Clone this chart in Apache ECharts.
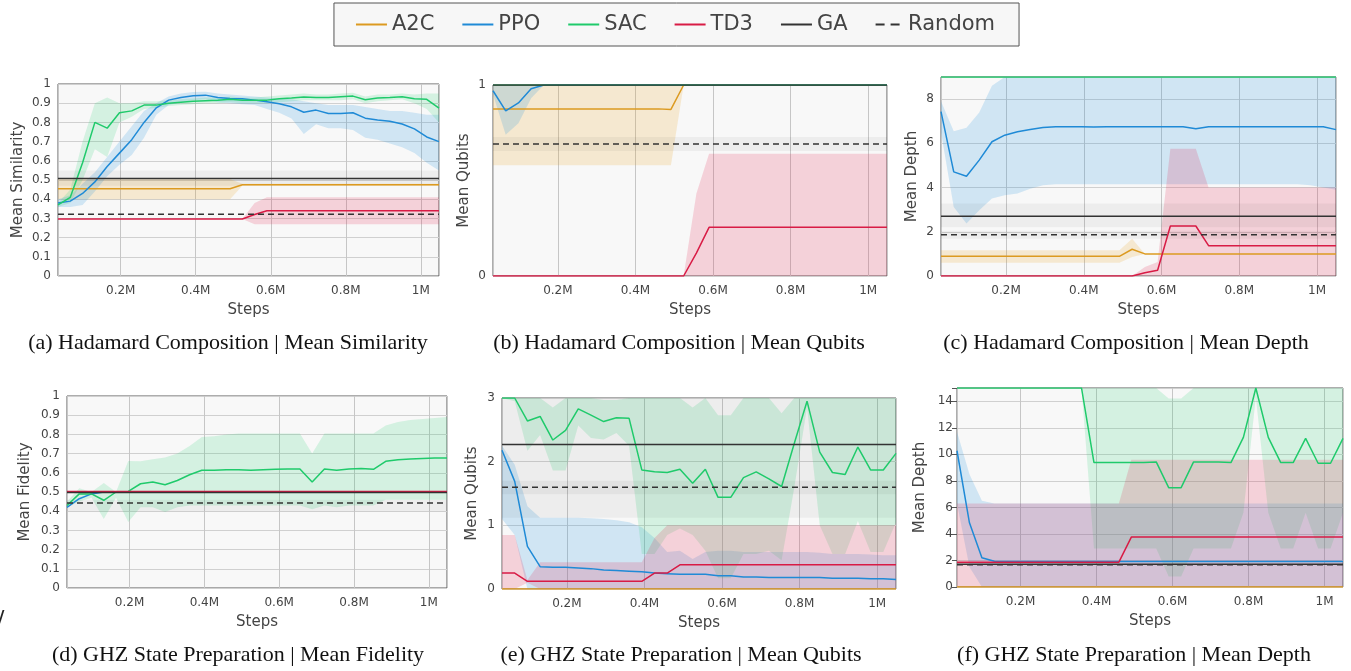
<!DOCTYPE html>
<html><head><meta charset="utf-8">
<script src="https://cdn.jsdelivr.net/npm/echarts@6/dist/echarts.min.js"></script>
<style>html,body{margin:0;padding:0;background:#fff;}#c{width:1351px;height:671px;}</style>
</head><body><div id="c"></div>
<script>
// ---- x values (environment steps) ----
const steps = [32768,65536,98304,131072,163840,196608,229376,262144,294912,327680,360448,393216,425984,458752,491520,524288,557056,589824,622592,655360,688128,720896,753664,786432,819200,851968,884736,917504,950272,983040,1015808,1048576];
const methodNames = ['A2C','PPO','SAC','TD3','GA','Random'];

// ---- (a) Hadamard Composition | Mean Similarity ----
const a_A2C    = [0.454,0.454,0.454,0.454,0.454,0.454,0.454,0.454,0.454,0.454,0.454,0.454,0.454,0.454,0.454,0.475,0.475,0.475,0.475,0.475,0.475,0.475,0.475,0.475,0.475,0.475,0.475,0.475,0.475,0.475,0.475,0.475];
const a_A2C_lo = [0.40,0.40,0.40,0.40,0.40,0.40,0.40,0.40,0.40,0.40,0.40,0.40,0.40,0.40,0.40,0.47,0.47,0.47,0.47,0.47,0.47,0.47,0.47,0.47,0.47,0.47,0.47,0.47,0.47,0.47,0.47,0.47];
const a_A2C_hi = [0.505,0.505,0.505,0.505,0.505,0.505,0.505,0.505,0.505,0.505,0.505,0.505,0.505,0.505,0.505,0.48,0.48,0.48,0.48,0.48,0.48,0.48,0.48,0.48,0.48,0.48,0.48,0.48,0.48,0.48,0.48,0.48];
const a_PPO    = [0.38,0.39,0.43,0.49,0.57,0.64,0.71,0.80,0.876,0.916,0.93,0.939,0.942,0.93,0.925,0.923,0.916,0.907,0.897,0.881,0.853,0.864,0.846,0.846,0.85,0.822,0.813,0.806,0.792,0.766,0.724,0.70];
const a_PPO_lo = [0.36,0.36,0.37,0.44,0.52,0.58,0.63,0.72,0.84,0.89,0.905,0.915,0.92,0.905,0.90,0.895,0.89,0.87,0.85,0.82,0.74,0.79,0.77,0.77,0.76,0.72,0.71,0.69,0.67,0.64,0.59,0.55];
const a_PPO_hi = [0.40,0.42,0.48,0.54,0.62,0.70,0.78,0.86,0.90,0.935,0.95,0.958,0.96,0.95,0.945,0.94,0.935,0.93,0.925,0.92,0.91,0.90,0.89,0.89,0.89,0.88,0.87,0.86,0.86,0.85,0.84,0.84];
const a_SAC    = [0.37,0.41,0.59,0.80,0.77,0.85,0.86,0.89,0.89,0.90,0.905,0.91,0.913,0.916,0.92,0.916,0.916,0.916,0.923,0.927,0.932,0.93,0.93,0.934,0.937,0.918,0.927,0.93,0.934,0.923,0.92,0.874];
const a_SAC_lo = [0.36,0.38,0.50,0.66,0.62,0.80,0.83,0.87,0.875,0.885,0.89,0.895,0.90,0.90,0.905,0.90,0.90,0.90,0.905,0.91,0.915,0.915,0.915,0.915,0.92,0.90,0.91,0.915,0.92,0.90,0.87,0.80];
const a_SAC_hi = [0.38,0.45,0.70,0.90,0.93,0.90,0.90,0.91,0.91,0.915,0.92,0.925,0.93,0.93,0.935,0.93,0.93,0.935,0.94,0.945,0.95,0.945,0.945,0.95,0.955,0.935,0.945,0.945,0.95,0.945,0.95,0.95];
const a_TD3    = [0.297,0.297,0.297,0.297,0.297,0.297,0.297,0.297,0.297,0.297,0.297,0.297,0.297,0.297,0.297,0.297,0.32,0.34,0.34,0.34,0.34,0.34,0.34,0.34,0.34,0.34,0.34,0.34,0.34,0.34,0.34,0.34];
const a_TD3_lo = [0.297,0.297,0.297,0.297,0.297,0.297,0.297,0.297,0.297,0.297,0.297,0.297,0.297,0.297,0.297,0.297,0.27,0.27,0.27,0.27,0.27,0.27,0.27,0.27,0.27,0.27,0.27,0.27,0.27,0.27,0.27,0.27];
const a_TD3_hi = [0.297,0.297,0.297,0.297,0.297,0.297,0.297,0.297,0.297,0.297,0.297,0.297,0.297,0.297,0.297,0.297,0.38,0.41,0.41,0.41,0.41,0.41,0.41,0.41,0.41,0.41,0.41,0.41,0.41,0.41,0.41,0.41];
const a_GA     = [0.508,0.47,0.55];   // mean, lower, upper
const a_Random = [0.321,0.321,0.321];

// ---- (b) Hadamard Composition | Mean Qubits ----
const b_A2C    = [0.875,0.875,0.875,0.875,0.875,0.875,0.875,0.875,0.875,0.875,0.875,0.875,0.875,0.875,0.872,1,1,1,1,1,1,1,1,1,1,1,1,1,1,1,1,1];
const b_A2C_lo = [0.58,0.58,0.58,0.58,0.58,0.58,0.58,0.58,0.58,0.58,0.58,0.58,0.58,0.58,0.58,1,1,1,1,1,1,1,1,1,1,1,1,1,1,1,1,1];
const b_A2C_hi = [1,1,1,1,1,1,1,1,1,1,1,1,1,1,1,1,1,1,1,1,1,1,1,1,1,1,1,1,1,1,1,1];
const b_PPO    = [0.97,0.864,0.906,0.98,1,1,1,1,1,1,1,1,1,1,1,1,1,1,1,1,1,1,1,1,1,1,1,1,1,1,1,1];
const b_PPO_lo = [0.95,0.74,0.80,0.93,1,1,1,1,1,1,1,1,1,1,1,1,1,1,1,1,1,1,1,1,1,1,1,1,1,1,1,1];
const b_PPO_hi = [1,1,1,1,1,1,1,1,1,1,1,1,1,1,1,1,1,1,1,1,1,1,1,1,1,1,1,1,1,1,1,1];
const b_SAC    = [1,1,1,1,1,1,1,1,1,1,1,1,1,1,1,1,1,1,1,1,1,1,1,1,1,1,1,1,1,1,1,1];
const b_TD3    = [0,0,0,0,0,0,0,0,0,0,0,0,0,0,0,0,0.12,0.255,0.255,0.255,0.255,0.255,0.255,0.255,0.255,0.255,0.255,0.255,0.255,0.255,0.255,0.255];
const b_TD3_lo = [0,0,0,0,0,0,0,0,0,0,0,0,0,0,0,0,0,0,0,0,0,0,0,0,0,0,0,0,0,0,0,0];
const b_TD3_hi = [0,0,0,0,0,0,0,0,0,0,0,0,0,0,0,0,0.43,0.64,0.64,0.64,0.64,0.64,0.64,0.64,0.64,0.64,0.64,0.64,0.64,0.64,0.64,0.64];
const b_GA     = [1,1,1];
const b_Random = [0.691,0.655,0.728];

// ---- (c) Hadamard Composition | Mean Depth ----
const c_A2C    = [0.89,0.89,0.89,0.89,0.89,0.89,0.89,0.89,0.89,0.89,0.89,0.89,0.89,0.89,0.89,1.21,1.0,1.0,1.0,1.0,1.0,1.0,1.0,1.0,1.0,1.0,1.0,1.0,1.0,1.0,1.0,1.0];
const c_A2C_lo = [0.6,0.6,0.6,0.6,0.6,0.6,0.6,0.6,0.6,0.6,0.6,0.6,0.6,0.6,0.6,0.86,1.0,1.0,1.0,1.0,1.0,1.0,1.0,1.0,1.0,1.0,1.0,1.0,1.0,1.0,1.0,1.0];
const c_A2C_hi = [1.16,1.16,1.16,1.16,1.16,1.16,1.16,1.16,1.16,1.16,1.16,1.16,1.16,1.16,1.16,1.69,1.0,1.0,1.0,1.0,1.0,1.0,1.0,1.0,1.0,1.0,1.0,1.0,1.0,1.0,1.0,1.0];
const c_PPO    = [7.43,4.71,4.51,5.24,6.07,6.37,6.52,6.63,6.72,6.75,6.75,6.75,6.74,6.75,6.75,6.75,6.75,6.75,6.75,6.75,6.66,6.75,6.75,6.75,6.75,6.75,6.75,6.75,6.75,6.75,6.75,6.62];
const c_PPO_lo = [6.5,3.12,2.37,2.97,3.5,3.65,3.73,3.95,4.1,4.15,4.15,4.15,4.15,4.15,4.15,4.15,4.15,4.15,4.15,4.15,4.15,4.15,4.15,4.15,4.15,4.15,4.15,4.15,4.15,4.1,4.0,3.9];
const c_PPO_hi = [7.9,6.55,6.7,7.4,8.6,9,9,9,9,9,9,9,9,9,9,9,9,9,9,9,9,9,9,9,9,9,9,9,9,9,9,9];
const c_SAC    = [9,9,9,9,9,9,9,9,9,9,9,9,9,9,9,9,9,9,9,9,9,9,9,9,9,9,9,9,9,9,9,9];
const c_TD3    = [0,0,0,0,0,0,0,0,0,0,0,0,0,0,0,0,0.15,0.26,2.26,2.26,2.26,1.37,1.37,1.37,1.37,1.37,1.37,1.37,1.37,1.37,1.37,1.37];
const c_TD3_lo = [0,0,0,0,0,0,0,0,0,0,0,0,0,0,0,0,0,0,0,0,0,0,0,0,0,0,0,0,0,0,0,0];
const c_TD3_hi = [0,0,0,0,0,0,0,0,0,0,0,0,0,0,0,0,0.41,0.63,5.75,5.75,5.75,4.0,4.0,4.0,4.0,4.0,4.0,4.0,4.0,4.0,4.0,4.0];
const c_GA     = [2.70,2.2,3.28];
const c_Random = [1.87,1.69,2.05];

// ---- (d) GHZ State Preparation | Mean Fidelity ----
const d_A2C    = [0.5,0.5,0.5,0.5,0.5,0.5,0.5,0.5,0.5,0.5,0.5,0.5,0.5,0.5,0.5,0.5,0.5,0.5,0.5,0.5,0.5,0.5,0.5,0.5,0.5,0.5,0.5,0.5,0.5,0.5,0.5,0.5];
const d_PPO    = [0.42,0.465,0.49,0.5,0.5,0.5,0.5,0.5,0.5,0.5,0.5,0.5,0.5,0.5,0.5,0.5,0.5,0.5,0.5,0.5,0.5,0.5,0.5,0.5,0.5,0.5,0.5,0.5,0.5,0.5,0.5,0.5];
const d_SAC    = [0.43,0.49,0.49,0.457,0.5,0.503,0.543,0.552,0.538,0.56,0.59,0.613,0.613,0.616,0.616,0.613,0.616,0.618,0.62,0.62,0.552,0.62,0.613,0.62,0.622,0.618,0.66,0.668,0.672,0.675,0.677,0.677];
const d_SAC_lo = [0.42,0.45,0.47,0.36,0.47,0.344,0.42,0.42,0.396,0.42,0.43,0.43,0.43,0.43,0.43,0.43,0.43,0.43,0.43,0.43,0.41,0.43,0.42,0.43,0.43,0.43,0.46,0.46,0.46,0.46,0.46,0.46];
const d_SAC_hi = [0.45,0.52,0.50,0.547,0.50,0.661,0.66,0.67,0.68,0.70,0.74,0.786,0.79,0.80,0.805,0.805,0.805,0.805,0.805,0.805,0.70,0.805,0.805,0.805,0.805,0.805,0.847,0.865,0.875,0.88,0.885,0.89];
const d_TD3    = [0.502,0.502,0.502,0.502,0.502,0.502,0.502,0.502,0.502,0.502,0.502,0.502,0.502,0.502,0.502,0.502,0.502,0.502,0.502,0.502,0.502,0.502,0.502,0.502,0.502,0.502,0.502,0.502,0.502,0.502,0.502,0.502];
const d_GA     = [0.497,0.497,0.497];
const d_Random = [0.443,0.40,0.46];

// ---- (e) GHZ State Preparation | Mean Qubits ----
const e_A2C    = [0,0,0,0,0,0,0,0,0,0,0,0,0,0,0,0,0,0,0,0,0,0,0,0,0,0,0,0,0,0,0,0];
const e_PPO    = [2.18,1.69,0.67,0.35,0.34,0.34,0.33,0.32,0.30,0.29,0.28,0.27,0.25,0.24,0.23,0.23,0.23,0.21,0.21,0.19,0.19,0.18,0.18,0.18,0.18,0.18,0.17,0.17,0.17,0.16,0.16,0.15];
const e_PPO_lo = [1.1,0.85,0,0,0,0,0,0,0,0,0,0,0,0,0,0,0,0,0,0,0,0,0,0,0,0,0,0,0,0,0,0];
const e_PPO_hi = [2.25,1.95,1.3,1.12,1.12,1.12,1.12,1.11,1.10,1.08,1.05,0.97,0.8,0.58,0.6,0.47,0.58,0.6,0.6,0.58,0.58,0.58,0.58,0.58,0.58,0.57,0.55,0.55,0.55,0.54,0.53,0.53];
const e_SAC    = [3.0,3.0,2.64,2.71,2.34,2.49,2.83,2.73,2.63,2.69,2.68,1.87,1.84,1.83,1.88,1.66,1.88,1.44,1.44,1.75,1.84,1.73,1.61,2.29,2.95,2.15,1.83,1.80,2.23,1.87,1.87,2.13];
const e_SAC_lo = [3.0,2.95,2.17,2.42,1.86,1.86,2.57,2.37,2.35,2.45,2.25,0.55,0.55,0.85,0.95,0.85,0.6,0.17,0.17,0.55,0.55,0.6,0.45,1.6,2.85,1.0,0.55,0.55,1.07,0.58,0.58,1.05];
const e_SAC_hi = [3,3,3,3,2.85,3,3,3,2.97,2.97,3,3,3,3,3,2.85,3,2.73,2.73,3,3,3,2.76,3,3,3,3,3,3,3,3,3];
const e_TD3    = [0.25,0.25,0.12,0.12,0.12,0.12,0.12,0.12,0.12,0.12,0.12,0.12,0.25,0.25,0.38,0.38,0.38,0.38,0.38,0.38,0.38,0.38,0.38,0.38,0.38,0.38,0.38,0.38,0.38,0.38,0.38,0.38];
const e_TD3_lo = [0,0,0.10,0,0,0,0,0,0,0,0,0,0,0,0,0,0,0,0,0,0,0,0,0,0,0,0,0,0,0,0,0];
const e_TD3_hi = [0.85,0.85,0.14,0.42,0.42,0.42,0.42,0.42,0.42,0.42,0.42,0.42,0.8,1.0,1.0,1.0,1.0,1.0,1.0,1.0,1.0,1.0,1.0,1.0,1.0,1.0,1.0,1.0,1.0,1.0,1.0,1.0];
const e_GA     = [2.27,1.12,3.0];
const e_Random = [1.6,1.49,1.7];

// ---- (f) GHZ State Preparation | Mean Depth ----
const f_A2C    = [0,0,0,0,0,0,0,0,0,0,0,0,0,0,0,0,0,0,0,0,0,0,0,0,0,0,0,0,0,0,0,0];
const f_PPO    = [10.27,4.84,2.2,1.94,1.93,1.93,1.93,1.93,1.93,1.93,1.93,1.93,1.93,1.93,1.93,1.93,1.93,1.93,1.93,1.93,1.93,1.93,1.93,1.93,1.93,1.93,1.93,1.93,1.93,1.93,1.93,1.93];
const f_PPO_lo = [6.3,1.5,0,0,0,0,0,0,0,0,0,0,0,0,0,0,0,0,0,0,0,0,0,0,0,0,0,0,0,0,0,0];
const f_PPO_hi = [11.7,8.5,6.5,6.3,6.3,6.3,6.3,6.3,6.3,6.3,6.3,6.3,6.3,6.3,6.3,6.3,6.3,6.3,6.3,6.3,6.3,6.3,6.3,6.3,6.3,6.3,6.3,6.3,6.3,6.3,6.3,6.3];
const f_SAC    = [15,15,15,15,15,15,15,15,15,15,15,9.38,9.38,9.38,9.38,9.38,9.43,7.49,7.49,9.43,9.43,9.43,9.38,11.28,15,11.28,9.38,9.38,11.2,9.33,9.33,11.2];
const f_SAC_lo = [15,15,15,15,15,15,15,15,15,15,15,2.9,2.9,2.9,2.9,2.9,2.9,0.8,0.8,2.9,2.9,2.9,2.9,5.6,14.3,5.6,2.9,2.9,5.6,2.9,2.9,5.6];
const f_SAC_hi = [15,15,15,15,15,15,15,15,15,15,15,15,15,15,15,15,15,14.2,14.2,15,15,15,15,15,15,15,15,15,15,15,15,15];
const f_TD3    = [1.87,1.87,1.87,1.87,1.87,1.87,1.87,1.87,1.87,1.87,1.87,1.87,1.87,1.87,3.76,3.76,3.76,3.76,3.76,3.76,3.76,3.76,3.76,3.76,3.76,3.76,3.76,3.76,3.76,3.76,3.76,3.76];
const f_TD3_lo = [0,0,0,0,0,0,0,0,0,0,0,0,0,0,0,0,0,0,0,0,0,0,0,0,0,0,0,0,0,0,0,0];
const f_TD3_hi = [6.3,6.3,6.3,6.3,6.3,6.3,6.3,6.3,6.3,6.3,6.3,6.3,6.3,6.3,9.6,9.6,9.6,9.6,9.6,9.6,9.6,9.6,9.6,9.6,9.6,9.6,9.6,9.6,9.6,9.6,9.6,9.6];
const f_GA     = [1.72,1.72,1.72];
const f_Random = [1.68,1.68,1.68];

// ---- texts ----
const xTickLabels = {200000:'0.2M',400000:'0.4M',600000:'0.6M',800000:'0.8M',1000000:'1M'};
const captions = ['(a) Hadamard Composition | Mean Similarity','(b) Hadamard Composition | Mean Qubits','(c) Hadamard Composition | Mean Depth','(d) GHZ State Preparation | Mean Fidelity','(e) GHZ State Preparation | Mean Qubits','(f) GHZ State Preparation | Mean Depth'];
const yTitles = ['Mean Similarity','Mean Qubits','Mean Depth','Mean Fidelity','Mean Qubits','Mean Depth'];

// ---- styling ----
const LINE = {A2C:'#dc9a20',PPO:'#1f8ad6',SAC:'#1fca6b',TD3:'#d81b45',GA:'#333333',Random:'#333333'};
const BAND = {A2C:'rgba(232,160,30,0.18)',PPO:'rgba(30,144,220,0.18)',SAC:'rgba(35,210,115,0.17)',TD3:'rgba(225,35,75,0.18)',GA:'rgba(0,0,0,0.045)',Random:'rgba(0,0,0,0.045)'};
const FONT = "'DejaVu Sans', sans-serif";

const panels = [
  {grid:{left:58,top:84,width:381,height:192}, y:{max:1,interval:0.1}, gap:32, cap:[228,343],
   m:{A2C:[a_A2C,a_A2C_lo,a_A2C_hi],PPO:[a_PPO,a_PPO_lo,a_PPO_hi],SAC:[a_SAC,a_SAC_lo,a_SAC_hi],TD3:[a_TD3,a_TD3_lo,a_TD3_hi],GA:a_GA,Random:a_Random}},
  {grid:{left:493,top:85,width:394,height:191}, y:{max:1,interval:1}, gap:21, cap:[679,343],
   m:{A2C:[b_A2C,b_A2C_lo,b_A2C_hi],PPO:[b_PPO,b_PPO_lo,b_PPO_hi],SAC:[b_SAC,b_SAC,b_SAC],TD3:[b_TD3,b_TD3_lo,b_TD3_hi],GA:b_GA,Random:b_Random}},
  {grid:{left:941,top:77,width:395,height:199}, y:{max:9,interval:2}, gap:21, cap:[1126,343],
   m:{A2C:[c_A2C,c_A2C_lo,c_A2C_hi],PPO:[c_PPO,c_PPO_lo,c_PPO_hi],SAC:[c_SAC,c_SAC,c_SAC],TD3:[c_TD3,c_TD3_lo,c_TD3_hi],GA:c_GA,Random:c_Random}},
  {grid:{left:67,top:396,width:380,height:192}, y:{max:1,interval:0.1}, gap:34, cap:[238,655],
   m:{A2C:[d_A2C,d_A2C,d_A2C],PPO:[d_PPO,d_PPO,d_PPO],SAC:[d_SAC,d_SAC_lo,d_SAC_hi],TD3:[d_TD3,d_TD3,d_TD3],GA:d_GA,Random:d_Random}},
  {grid:{left:502,top:398,width:394,height:191}, y:{max:3,interval:1}, gap:22, cap:[681,655],
   m:{A2C:[e_A2C,e_A2C,e_A2C],PPO:[e_PPO,e_PPO_lo,e_PPO_hi],SAC:[e_SAC,e_SAC_lo,e_SAC_hi],TD3:[e_TD3,e_TD3_lo,e_TD3_hi],GA:e_GA,Random:e_Random}},
  {grid:{left:957,top:388,width:386,height:199}, y:{max:15,interval:2}, gap:29, cap:[1134,655], ticks:true,
   m:{A2C:[f_A2C,f_A2C,f_A2C],PPO:[f_PPO,f_PPO_lo,f_PPO_hi],SAC:[f_SAC,f_SAC_lo,f_SAC_hi],TD3:[f_TD3,f_TD3_lo,f_TD3_hi],GA:f_GA,Random:f_Random}}
];

function bandSeries(i, name, xs, lo, hi) {
  return {type:'custom', name:name+' band', xAxisIndex:i, yAxisIndex:i, silent:true, z:1, clip:true,
    data: xs.map((x,j)=>[x, lo[j], hi[j]]),
    encode:{x:0, y:[1,2]},
    renderItem:(params, api)=>{
      if (params.dataIndex !== 0) return;
      const pts=[];
      for (let j=0;j<xs.length;j++) pts.push(api.coord([xs[j], hi[j]]));
      for (let j=xs.length-1;j>=0;j--) pts.push(api.coord([xs[j], lo[j]]));
      return {type:'polygon', shape:{points:pts}, style:{fill:BAND[name]}};
    }};
}

const grids=[], xAxes=[], yAxes=[], series=[], graphics=[];
const last = steps.length-1;
panels.forEach((p,i)=>{
  grids.push(Object.assign({show:true, backgroundColor:'#f8f8f8', borderColor:'#5a5a5a', borderWidth:1}, p.grid));
  xAxes.push({type:'value', gridIndex:i, min:steps[0], max:steps[last], minInterval:200000, maxInterval:200000, splitNumber:5,
    name:'Steps', nameLocation:'middle', nameGap:27, nameTextStyle:{fontFamily:FONT,fontSize:15,color:'#444'},
    axisLine:{show:false}, axisTick:{show:false},
    axisLabel:{fontFamily:FONT,fontSize:12,color:'#444',margin:9,
      formatter:v=>{const k=Math.round(v/200000); return (Math.abs(v-k*200000)<1 && xTickLabels[k*200000])?xTickLabels[k*200000]:'';}},
    splitLine:{show:true,lineStyle:{color:'#c6c6c6',width:1}}});
  const iv=p.y.interval;
  yAxes.push({type:'value', gridIndex:i, min:0, max:p.y.max, interval:iv,
    name:yTitles[i], nameLocation:'middle', nameGap:p.gap, nameTextStyle:{fontFamily:FONT,fontSize:15,color:'#444'},
    axisLine:{show:false}, axisTick:{show:!!p.ticks,length:5,lineStyle:{color:'#555'}},
    axisLabel:{fontFamily:FONT,fontSize:12,color:'#444',margin:p.ticks?4:7,
      formatter:v=>{const k=Math.round(v/iv); return Math.abs(v-k*iv)<1e-9? String(+(k*iv).toFixed(2)) : '';}},
    splitLine:{show:true,lineStyle:{color:'#d0d0d0',width:1}}});
  methodNames.forEach(name=>{
    const d=p.m[name];
    let mean, lo, hi, xs;
    if (Array.isArray(d[0])) { mean=d[0]; lo=d[1]; hi=d[2]; xs=steps; }
    else { mean=[d[0],d[0]]; lo=[d[1],d[1]]; hi=[d[2],d[2]]; xs=[steps[0],steps[last]]; }
    if (hi.some((h,j)=>h-lo[j]>1e-9)) series.push(bandSeries(i, name, xs, lo, hi));
    series.push({type:'line', name:name, xAxisIndex:i, yAxisIndex:i, symbol:'none', showSymbol:false, silent:true, z:3,
      itemStyle:{color:LINE[name]},
      lineStyle:{color:LINE[name], width:1.5, type: name==='Random'?[6,4]:'solid'},
      data:xs.map((x,j)=>[x,mean[j]])});
  });
  graphics.push({type:'text', x:p.cap[0], y:p.cap[1], style:{text:captions[i], font:"22px 'Liberation Serif', 'Times New Roman', serif", fill:'#111', textAlign:'center', textVerticalAlign:'middle', align:'center', verticalAlign:'middle'}});
});
graphics.push({type:'text', x:-3, y:620, style:{text:'/', font:"22px 'DejaVu Sans'", fill:'#222', textAlign:'left', textVerticalAlign:'middle', align:'left', verticalAlign:'middle'}});

const DASH_ICON = 'path://M0,0h9v2h-9z M15,0h9v2h-9z';
const chart = echarts.init(document.getElementById('c'), null, {renderer:'canvas'});
chart.setOption({
  animation:false,
  backgroundColor:'#ffffff',
  legend:{data:methodNames.map(n=>({name:n, icon: n==='Random'?DASH_ICON:'rect'})),
    left:'center', top:3, padding:[11,24,11,22], itemWidth:31, itemHeight:2, itemGap:28,
    backgroundColor:'#f7f7f7', borderColor:'#555', borderWidth:1, borderRadius:0,
    textStyle:{fontFamily:FONT, fontSize:21, color:'#444'}},
  grid:grids, xAxis:xAxes, yAxis:yAxes, series:series, graphic:graphics
});
</script></body></html>
